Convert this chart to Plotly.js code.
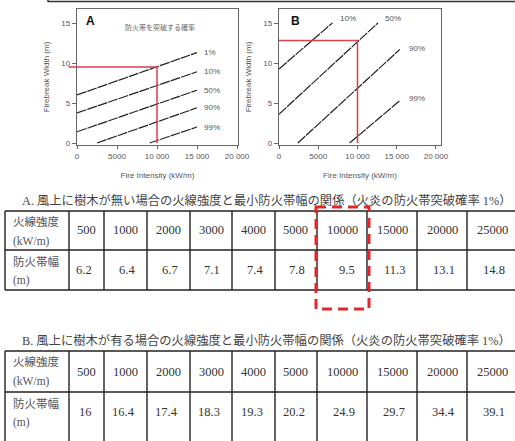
<!DOCTYPE html>
<html><head><meta charset="utf-8">
<script src="https://cdn.plot.ly/plotly-3.0.1.min.js"></script>
<style>html,body{margin:0;padding:0;background:#fff}#chart{width:515px;height:441px}</style>
</head><body><div id="chart"></div>
<script>
// ---------- Chart A (no upwind trees): breach-probability lines ----------
const aLabels = ['1%', '10%', '50%', '90%', '99%'];
const aX0 = [0, 0, 0, 2500, 9100];
const aY0 = [6.0, 3.75, 1.4, 0, 0];
const aX1 = [15000, 15000, 15000, 15000, 15000];
const aY1 = [11.3, 8.9, 6.6, 4.4, 2.0];
// ---------- Chart B (upwind trees) ----------
const bLabels = ['10%', '50%', '90%', '99%'];
const bX0 = [0, 0, 2400, 9000];
const bY0 = [9.25, 3.6, 0, 0];
const bX1 = [6800, 12600, 15400, 15400];
const bY1 = [15, 15, 11.7, 5.3];
const bLabelX = [8800, 14500, 17600, 17600];
const bLabelY = [15.6, 15.6, 11.8, 5.6];
// reading lines (red)
const readX = 10000;
const readYA = 9.5;
const readYB = 12.8;
// axis ticks
const xTickVals = [0, 5000, 10000, 15000, 20000];
const xTickText = ['0', '5000', '10 000', '15 000', '20 000'];
const yTickVals = [0, 5, 10, 15];
// ---------- Tables ----------
const captionA = 'A. 風上に樹木が無い場合の火線強度と最小防火帯幅の関係（火炎の防火帯突破確率 1%）';
const captionB = 'B. 風上に樹木が有る場合の火線強度と最小防火帯幅の関係（火炎の防火帯突破確率 1%）';
const rowLabel1 = ['火線強度', '(kW/m)'];
const rowLabel2 = ['防火帯幅', '(m)'];
const intensities = ['500', '1000', '2000', '3000', '4000', '5000', '10000', '15000', '20000', '25000'];
const widthsA = ['6.2', '6.4', '6.7', '7.1', '7.4', '7.8', '9.5', '11.3', '13.1', '14.8'];
const widthsB = ['16', '16.4', '17.4', '18.3', '19.3', '20.2', '24.9', '29.7', '34.4', '39.1'];
const highlightCol = 6; // 10000 column boxed in red

// ---------- layout constants (pixels) ----------
const W = 515, H = 441;
const colEdges = [5, 69, 104, 147, 190, 232, 275, 317, 367, 417, 467, 517];
const rowsA = [211, 250, 290];
const rowsB = [351, 392, 447];
const px = x => x / W;
const py = y => 1 - y / H;

const lineCol = '#222';
const txt = '#555';
const serif = 'Liberation Serif, Noto Sans CJK JP, serif';
const sans = 'Liberation Sans, Arial, sans-serif';

const traces = [];
for (let i = 0; i < aLabels.length; i++) {
  traces.push({x: [aX0[i], aX1[i]], y: [aY0[i], aY1[i]], mode: 'lines', xaxis: 'x', yaxis: 'y',
    line: {color: lineCol, width: 1.2, dash: '10px,1px'}, hoverinfo: 'skip', showlegend: false});
}
for (let i = 0; i < bLabels.length; i++) {
  traces.push({x: [bX0[i], bX1[i]], y: [bY0[i], bY1[i]], mode: 'lines', xaxis: 'x2', yaxis: 'y2',
    line: {color: lineCol, width: 1.2, dash: '10px,1px'}, hoverinfo: 'skip', showlegend: false});
}
traces.push({x: [0, readX, readX], y: [readYA, readYA, 0], mode: 'lines', xaxis: 'x', yaxis: 'y',
  line: {color: '#d8404a', width: 1.5}, showlegend: false});
traces.push({x: [0, readX, readX], y: [readYB, readYB, 0], mode: 'lines', xaxis: 'x2', yaxis: 'y2',
  line: {color: '#d8404a', width: 1.5}, showlegend: false});

function xAxis(domain, range, anchor) {
  return {domain, range, anchor, tickvals: xTickVals, ticktext: xTickText,
    showline: true, mirror: true, linecolor: '#666', linewidth: 1.2,
    ticks: 'outside', ticklen: 3, tickcolor: '#666', showgrid: false, zeroline: false,
    tickfont: {family: sans, size: 8, color: txt},
    title: {text: 'Fire Intensity (kW/m)', font: {family: sans, size: 8, color: txt}, standoff: 12}};
}
function yAxis(anchor) {
  return {domain: [py(145), py(9)], range: [-0.25, 16.75], anchor, tickvals: yTickVals,
    showline: true, mirror: true, linecolor: '#666', linewidth: 1.2,
    ticks: 'outside', ticklen: 4, tickcolor: '#666', showgrid: false, zeroline: false,
    tickfont: {family: sans, size: 8, color: txt},
    title: {text: 'Firebreak Width (m)', font: {family: sans, size: 8, color: txt}, standoff: 10}};
}

const annotations = [];
const shapes = [];
function note(o) { annotations.push(Object.assign({showarrow: false, xanchor: 'center', yanchor: 'middle'}, o)); }
// panel letters
note({x: 1625, y: 15.25, xref: 'x', yref: 'y', text: '<b>A</b>', font: {family: sans, size: 12, color: '#111'}});
note({x: 2040, y: 15.25, xref: 'x2', yref: 'y2', text: '<b>B</b>', font: {family: sans, size: 12, color: '#111'}});
note({x: 10375, y: 14.5, xref: 'x', yref: 'y', text: '防火帯を突破する確率',
  font: {family: 'Noto Sans CJK JP', size: 7, color: '#666'}});
for (let i = 0; i < aLabels.length; i++) {
  note({x: aX1[i], y: aY1[i], xref: 'x', yref: 'y', text: aLabels[i], xanchor: 'left', xshift: 5,
    font: {family: sans, size: 8, color: txt}});
}
for (let i = 0; i < bLabels.length; i++) {
  note({x: bLabelX[i], y: bLabelY[i], xref: 'x2', yref: 'y2', text: bLabels[i],
    font: {family: sans, size: 8, color: txt}});
}
// red overhang left of axis A
annotations.push({x: 0, y: readYA, xref: 'x', yref: 'y', text: '', showarrow: true, arrowhead: 0,
  ax: -10, ay: 0, arrowwidth: 1.5, arrowcolor: '#d8404a', standoff: 0});

// top frame line
shapes.push({type: 'line', xref: 'paper', yref: 'paper', x0: px(48), x1: 1, y0: py(1.5), y1: py(1.5),
  line: {color: '#333', width: 1.5}});
shapes.push({type: 'line', xref: 'paper', yref: 'paper', x0: px(48), x1: px(48), y0: 1, y1: py(2),
  line: {color: '#333', width: 1.5}});

function drawTable(caption, captionY, rows, values) {
  note({x: px(266), y: py(captionY), xref: 'paper', yref: 'paper', text: caption,
    font: {family: serif, size: 12.3, color: '#444'}});
  rows.forEach(r => shapes.push({type: 'line', xref: 'paper', yref: 'paper', x0: px(colEdges[0]),
    x1: px(colEdges[colEdges.length - 1]), y0: py(r), y1: py(r), line: {color: lineCol, width: 1.4}}));
  colEdges.forEach(c => shapes.push({type: 'line', xref: 'paper', yref: 'paper', x0: px(c), x1: px(c),
    y0: py(rows[0]), y1: py(rows[rows.length - 1]), line: {color: lineCol, width: 1.4}}));
  const rowH1 = rows[1] - rows[0];
  const labels = [rowLabel1, rowLabel2];
  [0, 1].forEach(ri => {
    const top = rows[ri];
    labels[ri].forEach((t, li) => note({x: px(colEdges[0] + 6), y: py(top + 11 + li * 19),
      xref: 'paper', yref: 'paper', text: t, xanchor: 'left',
      font: {family: serif, size: 11.5, color: '#555'}}));
  });
  intensities.forEach((v, i) => {
    const c0 = colEdges[i + 1], c1 = colEdges[i + 2];
    note({x: px((c0 + c1) / 2), y: py(rows[0] + rowH1 / 2), xref: 'paper', yref: 'paper',
      text: v, font: {family: serif, size: 12.5, color: '#333'}});
  });
  values.forEach((v, i) => {
    const c1 = colEdges[i + 2];
    note({x: px(c1 - 10), y: py(rows[1] + 20), xref: 'paper', yref: 'paper',
      text: v, xanchor: 'right', font: {family: serif, size: 12.5, color: '#333'}});
  });
}
drawTable(captionA, 200, rowsA, widthsA);
drawTable(captionB, 340, rowsB, widthsB);

// red dashed highlight around 10000 column of table A
shapes.push({type: 'rect', xref: 'paper', yref: 'paper',
  x0: px(colEdges[highlightCol + 1] - 1), x1: px(colEdges[highlightCol + 2] + 2),
  y0: py(207), y1: py(309), line: {color: '#e0282a', width: 3, dash: '10px,6px'}});

const layout = {
  width: W, height: H, margin: {l: 0, r: 0, t: 0, b: 0},
  paper_bgcolor: '#fff', plot_bgcolor: '#fff', showlegend: false,
  xaxis: xAxis([px(77), px(238)], [0, 20125], 'y'),
  yaxis: yAxis('x'),
  xaxis2: xAxis([px(279), px(441)], [0, 20640], 'y2'),
  yaxis2: yAxis('x2'),
  annotations, shapes
};
Plotly.newPlot('chart', traces, layout, {staticPlot: true, displayModeBar: false});
</script></body></html>
